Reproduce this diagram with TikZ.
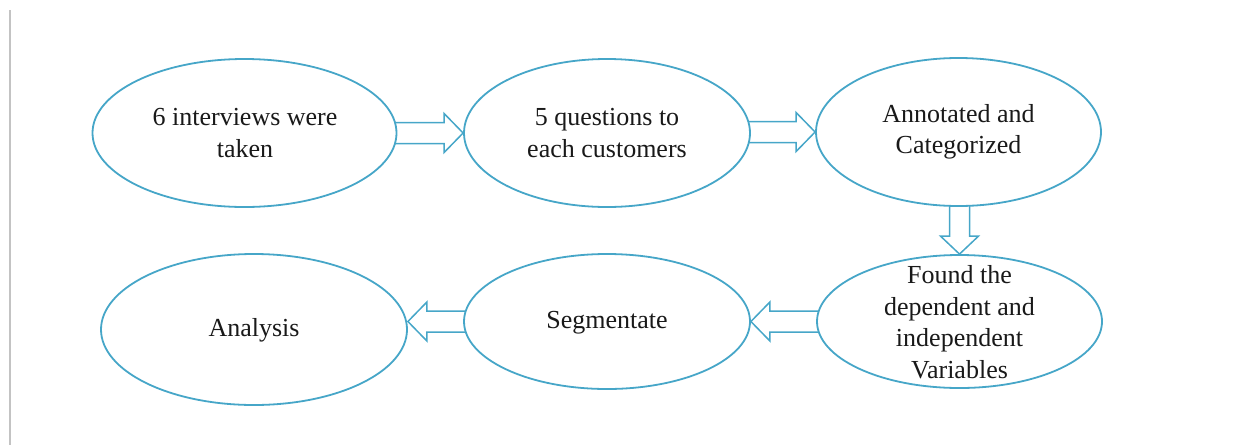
\documentclass[tikz,border=0pt]{standalone}
\usepackage{fontspec}
\setmainfont{Liberation Serif}
\usetikzlibrary{shapes.geometric,calc}
\pgfdeclarelayer{bg}
\pgfsetlayers{bg,main}
\definecolor{ac}{RGB}{70,166,200}
\definecolor{rulegray}{RGB}{195,195,195}
\tikzset{
  oval/.style={ellipse, draw=ac, line width=1.8pt, fill=white, inner sep=0pt},
  txt/.style={align=center, font=\fontsize{26}{31.5}\selectfont, inner sep=0pt, text=black!90},
  blk/.style={draw=ac, line width=1.5pt, line join=miter}
}
\begin{document}
\begin{tikzpicture}[x=1pt,y=-1pt]
\useasboundingbox (0,0) rectangle (1250,445);
\draw[rulegray, line width=1.5pt] (10,10) -- (10,445);

\node[oval, minimum width=304pt, minimum height=148pt] (e1) at (244.5,133) {};
\node[oval, minimum width=286pt, minimum height=148pt] (e2) at (607,133) {};
\node[oval, minimum width=285pt, minimum height=148pt] (e3) at (958.5,132) {};
\node[oval, minimum width=285pt, minimum height=133pt] (e4) at (959.5,321.5) {};
\node[oval, minimum width=286pt, minimum height=135pt] (e5) at (607,321.5) {};
\node[oval, minimum width=306pt, minimum height=151pt] (e6) at (254,329.5) {};

\node[txt] (t1) at (245,133) {6 interviews were\\taken};
\node[txt] (t2) at (607,133) {5 questions to\\each customers};
\node[txt] (t3) at (958.5,132) {Annotated and\\Categorized};
\node[txt] (t4) at (959.5,322) {Found the\\dependent and\\independent\\Variables};
\node[txt] (t5) at (607,323) {Segmentate};
\node[txt] (t6) at (254,330) {Analysis};

\begin{pgfonlayer}{bg}
% right arrows
\draw[blk] let \p1=(e1.east), \p2=(e2.west) in
  (\x1-8pt,\y2+10.5pt) -- (\x2-19pt,\y2+10.5pt) -- (\x2-19pt,\y2+19.5pt) -- (\p2)
  -- (\x2-19pt,\y2-19.5pt) -- (\x2-19pt,\y2-10.5pt) -- (\x1-8pt,\y2-10.5pt);
\draw[blk] let \p1=(e2.east), \p2=(e3.west) in
  (\x1-8pt,\y2+10.5pt) -- (\x2-19pt,\y2+10.5pt) -- (\x2-19pt,\y2+19.5pt) -- (\p2)
  -- (\x2-19pt,\y2-19.5pt) -- (\x2-19pt,\y2-10.5pt) -- (\x1-8pt,\y2-10.5pt);
% down arrow
\draw[blk] let \p1=(e3.south), \p2=(e4.north) in
  (\x2-10pt,\y1+8pt) -- (\x2-10pt,\y2+18pt) -- (\x2-19pt,\y2+18pt) -- (\p2)
  -- (\x2+19pt,\y2+18pt) -- (\x2+10pt,\y2+18pt) -- (\x2+10pt,\y1+8pt);
% left arrows
\draw[blk] let \p1=(e4.west), \p2=(e5.east) in
  (\x1+8pt,\y1+10.5pt) -- (\x2+19pt,\y1+10.5pt) -- (\x2+19pt,\y1+19.5pt) -- (\x2,\y1)
  -- (\x2+19pt,\y1-19.5pt) -- (\x2+19pt,\y1-10.5pt) -- (\x1+8pt,\y1-10.5pt);
\draw[blk] let \p1=(e5.west), \p2=(e6.east) in
  (\x1+8pt,\y1+10.5pt) -- (\x2+19pt,\y1+10.5pt) -- (\x2+19pt,\y1+19.5pt) -- (\x2,\y1)
  -- (\x2+19pt,\y1-19.5pt) -- (\x2+19pt,\y1-10.5pt) -- (\x1+8pt,\y1-10.5pt);
\end{pgfonlayer}
\end{tikzpicture}
\end{document}
